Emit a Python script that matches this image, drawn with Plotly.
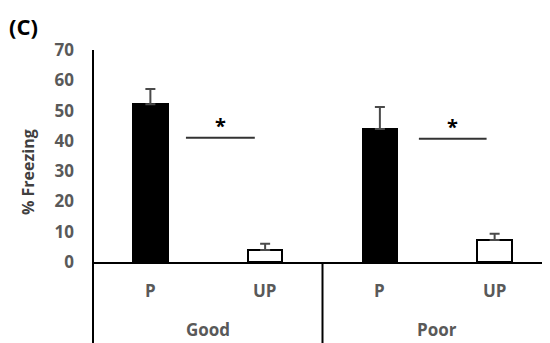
import plotly.graph_objects as go

categories = ["P", "UP", "P", "UP"]
groups = ["Good", "Poor"]
values = [52.1, 4.0, 43.9, 7.3]
errors = [5.0, 2.0, 7.3, 2.0]
bar_fill = ["black", "white", "black", "white"]
sig_x0 = [0.31, 2.34]
sig_x1 = [0.91, 2.93]
sig_y = [41.0, 40.7]
y_ticks = [0, 10, 20, 30, 40, 50, 60, 70]

# page body has an 8px margin, so the figure is offset by (8, 8)
OFF = 8
W, H = 550, 343
L, R, T, B = 93 - OFF, 6, 50 - OFF, 343 - 262 + OFF
plot_h = H - T - B
plot_w = W - L - R

gray = "#595959"
font_fam = "Open Sans, Lato, sans-serif"

x_idx = list(range(len(categories)))

fig = go.Figure()
fig.add_trace(go.Bar(
    x=x_idx, y=values, width=0.3,
    marker=dict(color=bar_fill, line=dict(color="black", width=2)),
    error_y=dict(type="data", array=errors, arrayminus=[0]*len(errors), symmetric=False,
                 color="#4a4a4a", thickness=2, width=5),
))

shapes = []
annotations = []
for x0, x1, yv in zip(sig_x0, sig_x1, sig_y):
    shapes.append(dict(type="line", xref="x", yref="y", x0=x0, x1=x1, y0=yv, y1=yv,
                       line=dict(color="#333333", width=2)))
    annotations.append(dict(x=(x0 + x1) / 2, y=yv - 1.0, xref="x", yref="y", text="<b>*</b>",
                            showarrow=False, font=dict(size=20, color="black", family=font_fam),
                            xanchor="center", yanchor="bottom"))

ext = -(343 - 262) / plot_h
shapes.append(dict(type="line", xref="paper", yref="paper", x0=0, x1=0, y0=ext, y1=1,
                   line=dict(color="black", width=2)))
shapes.append(dict(type="line", xref="x", yref="paper", x0=1.5, x1=1.5, y0=ext, y1=0,
                   line=dict(color="black", width=2)))

for xi, c in zip(x_idx, categories):
    annotations.append(dict(x=xi, y=-(290 - 262) / plot_h, xref="x", yref="paper", text="<b>" + c + "</b>",
                            showarrow=False, xanchor="center", yanchor="middle",
                            font=dict(size=17, color=gray, family=font_fam)))
for gi, g in enumerate(groups):
    annotations.append(dict(x=gi * 2 + 0.5, y=-(329 - 262) / plot_h, xref="x", yref="paper",
                            text="<b>" + g + "</b>", showarrow=False, xanchor="center", yanchor="middle",
                            font=dict(size=17, color=gray, family=font_fam)))

# y title
annotations.append(dict(x=-(93 - 28) / plot_w, y=(262 - 172) / plot_h, xref="paper", yref="paper",
                        text="<b>% Freezing</b>", textangle=-90, showarrow=False,
                        xanchor="center", yanchor="middle",
                        font=dict(size=16, color="#404040", family=font_fam)))

# panel label
annotations.append(dict(x=-(93 - 7) / plot_w, y=(262 - 26) / plot_h, xref="paper", yref="paper",
                        text="<b>(C)</b>", showarrow=False, xanchor="left", yanchor="middle",
                        font=dict(size=22, color="black", family=font_fam)))

fig.update_layout(
    width=W, height=H,
    margin=dict(l=L, r=R, t=T, b=B),
    paper_bgcolor="white", plot_bgcolor="white",
    showlegend=False,
    bargap=0,
    shapes=shapes, annotations=annotations,
    xaxis=dict(range=[-0.5, 3.5], showticklabels=False, ticks="", showgrid=False, zeroline=False,
               showline=True, linecolor="black", linewidth=2),
    yaxis=dict(range=[0, 70], tickvals=y_ticks, showgrid=False, zeroline=False, showline=False,
               ticks="", ticklabelstandoff=18,
               tickfont=dict(size=17, color=gray, family=font_fam, weight="bold")),
)

fig.write_html("out.html")
